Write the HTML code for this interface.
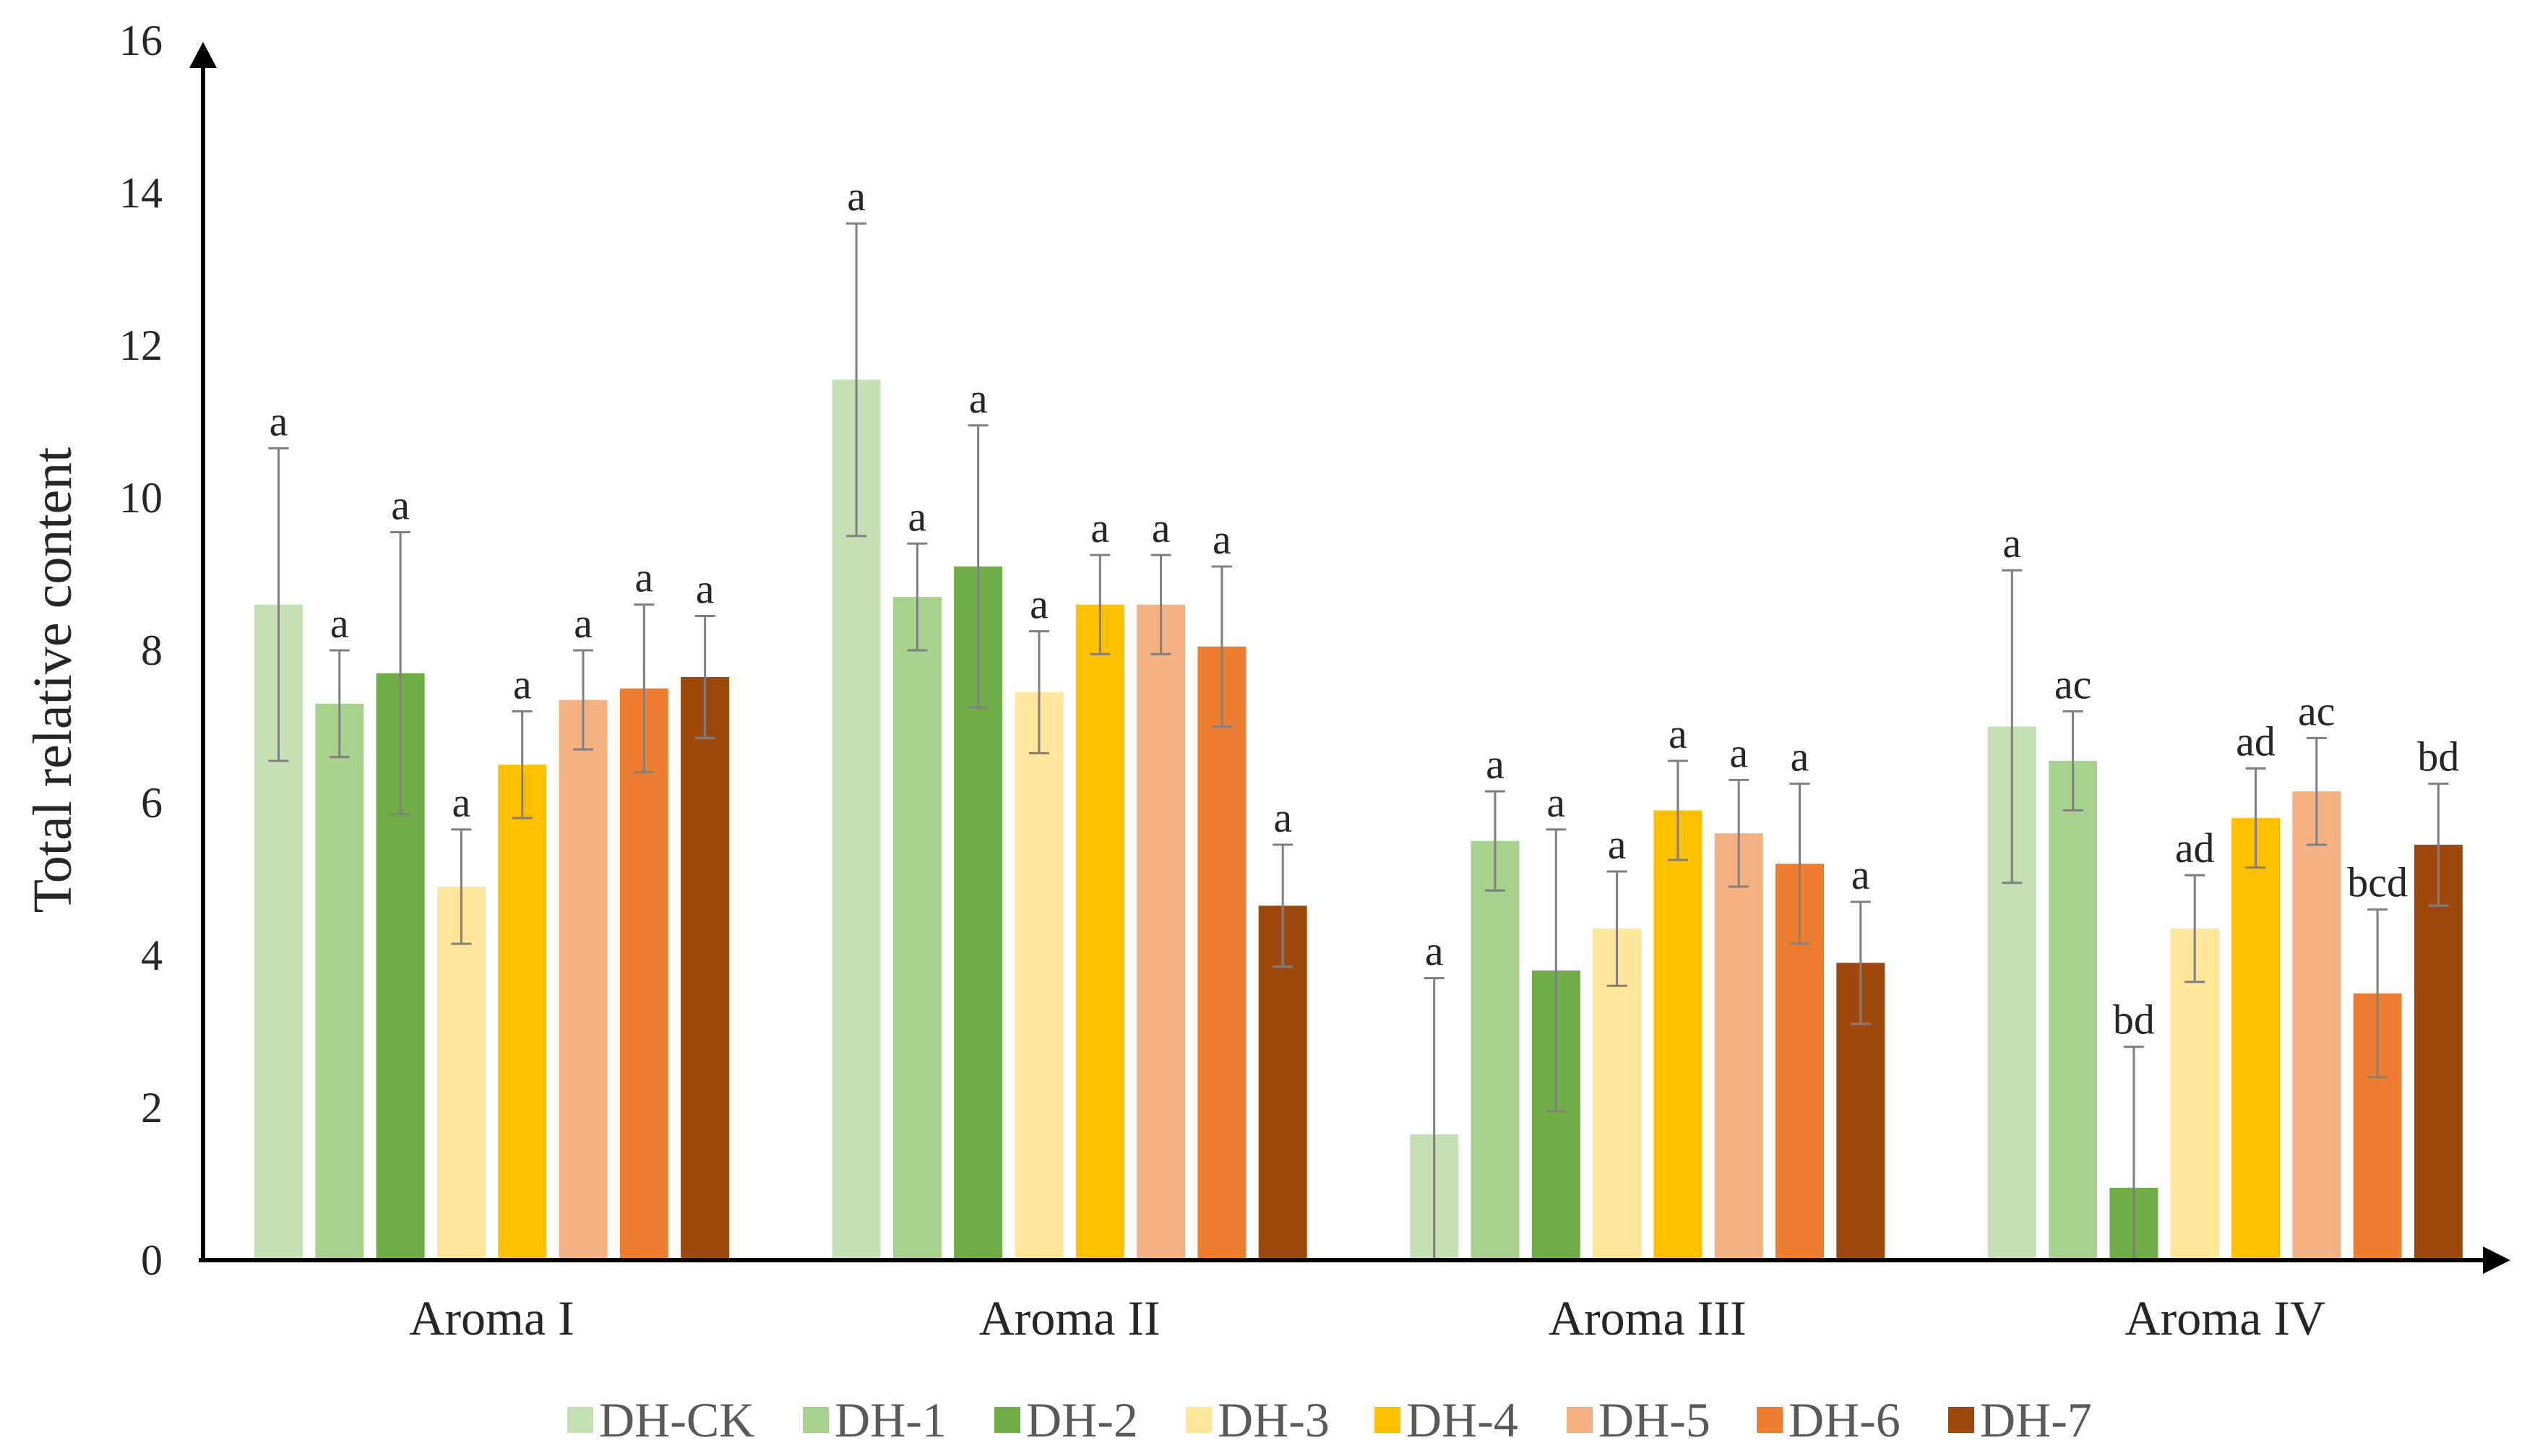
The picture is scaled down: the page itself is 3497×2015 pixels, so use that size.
<!DOCTYPE html>
<html><head><meta charset="utf-8"><style>
html,body{margin:0;padding:0;background:#fff;}
svg{display:block;font-family:"Liberation Serif",serif;}
</style></head><body>
<svg id="chart" width="3497" height="2015" viewBox="0 0 3497 2015" xmlns="http://www.w3.org/2000/svg"></svg>
<script>
const categories = ["Aroma I","Aroma II","Aroma III","Aroma IV"];
const seriesNames = ["DH-CK","DH-1","DH-2","DH-3","DH-4","DH-5","DH-6","DH-7"];
const seriesColors = ["#c5e0b4","#a9d18e","#70ad47","#ffe699","#ffc000","#f4b183","#ed7d31","#9e480e"];
const valuesI   = [8.6, 7.3, 7.7, 4.9, 6.5, 7.35, 7.5, 7.65];
const valuesII  = [11.55, 8.7, 9.1, 7.45, 8.6, 8.6, 8.05, 4.65];
const valuesIII = [1.65, 5.5, 3.8, 4.35, 5.9, 5.6, 5.2, 3.9];
const valuesIV  = [7.0, 6.55, 0.95, 4.35, 5.8, 6.15, 3.5, 5.45];
const errorsI   = [2.05, 0.7, 1.85, 0.75, 0.7, 0.65, 1.1, 0.8];
const errorsII  = [2.05, 0.7, 1.85, 0.8, 0.65, 0.65, 1.05, 0.8];
const errorsIII = [2.05, 0.65, 1.85, 0.75, 0.65, 0.7, 1.05, 0.8];
const errorsIV  = [2.05, 0.65, 1.85, 0.7, 0.65, 0.7, 1.1, 0.8];
const lettersI   = ["a","a","a","a","a","a","a","a"];
const lettersII  = ["a","a","a","a","a","a","a","a"];
const lettersIII = ["a","a","a","a","a","a","a","a"];
const lettersIV  = ["a","ac","bd","ad","ad","ac","bcd","bd"];
const yTicks = [0,2,4,6,8,10,12,14,16];

const values = [valuesI, valuesII, valuesIII, valuesIV];
const errors = [errorsI, errorsII, errorsIII, errorsIV];
const letters = [lettersI, lettersII, lettersIII, lettersIV];

const NS = "http://www.w3.org/2000/svg";
const svg = document.getElementById("chart");
const Y0 = 1744, PU = 105.5;
function yScale(v){ return Y0 - v*PU; }
const GROUP0 = 352, GROUPSTEP = 799.6, PITCH = 84.3, BW = 67;
function xBar(g,s){ return GROUP0 + g*GROUPSTEP + s*PITCH; }
function mk(tag, attrs, parent){
  const e = document.createElementNS(NS, tag);
  for (const k in attrs) e.setAttribute(k, attrs[k]);
  (parent||svg).appendChild(e);
  return e;
}

yTicks.forEach(t=>{
  const e = mk("text",{x:225,y:yScale(t)+20,"text-anchor":"end","font-size":60,fill:"#262626"});
  
  
  e.textContent = t;
});

categories.forEach((c,g)=>{
  seriesNames.forEach((s,i)=>{
    const v = values[g][i], er = errors[g][i];
    const x = xBar(g,i);
    const r = mk("rect",{x:x,y:yScale(v),width:BW,height:Y0-yScale(v),fill:seriesColors[i]});
    
    
    const cx = x + BW/2, top = yScale(v+er), bot = yScale(Math.max(0,v-er));
    const eb = mk("path",{d:`M${cx},${top}V${bot}M${cx-14},${top}H${cx+14}M${cx-14},${bot}H${cx+14}`,stroke:"#7f7f7f","stroke-width":3,fill:"none"});
    
    
    const l = mk("text",{x:cx,y:top-18,"text-anchor":"middle","font-size":58,fill:"#262626"});
    
    
    l.textContent = letters[g][i];
  });
  const cl = mk("text",{x:xBar(g,0)+(7*PITCH+BW)/2,y:1847,"text-anchor":"middle","font-size":68,fill:"#262626"});
  
  
  cl.textContent = c;
});

const ax = mk("path",{d:`M281,${Y0}V90M275,${Y0}H3440`,stroke:"#000","stroke-width":6,fill:"none"});


const ya = mk("polygon",{points:"281,58 262,94 300,94",fill:"#000"});


const xa = mk("polygon",{points:`3474,${Y0} 3436,${Y0-19} 3436,${Y0+19}`,fill:"#000"});



const yt = mk("text",{x:0,y:0,transform:"translate(98,941) rotate(-90)","text-anchor":"middle","font-size":76,fill:"#262626"});


yt.textContent = "Total relative content";

const legendX = [785, 1111, 1376, 1641, 1902, 2168, 2431, 2696];
seriesNames.forEach((s,i)=>{
  const lx = legendX[i];
  const g = mk("g",{});
  
  
  mk("rect",{x:lx,y:1947,width:36,height:36,fill:seriesColors[i]},g);
  const t = mk("text",{x:lx+44,y:1988,"font-size":68,fill:"#595959"},g);
  t.textContent = s;
});
</script>
</body></html>
